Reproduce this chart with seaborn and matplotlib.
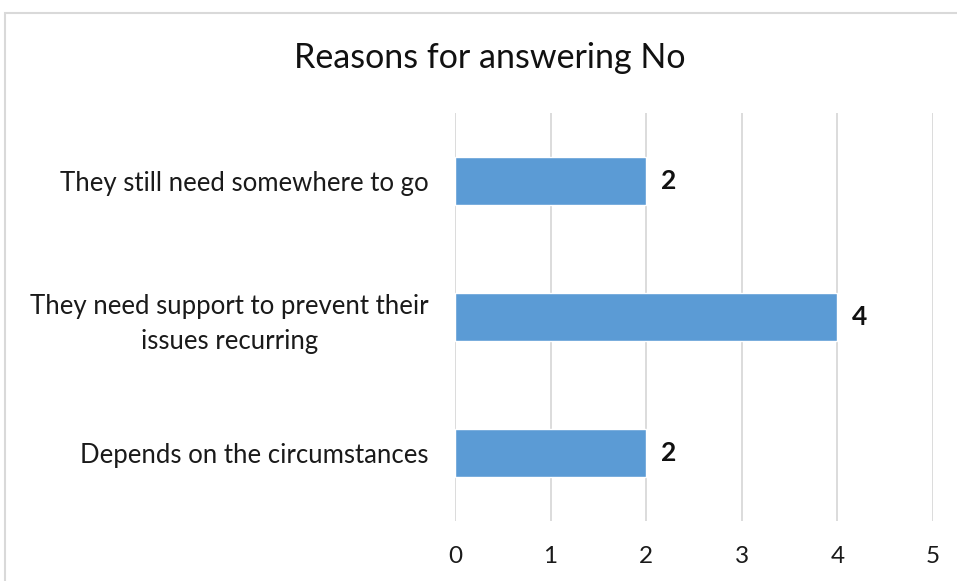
import matplotlib.pyplot as plt
import seaborn as sns
import pandas as pd
from matplotlib.patches import Rectangle

# === Données ===
categories = [
    "They still need somewhere to go",
    "They need support to prevent their\nissues recurring",
    "Depends on the circumstances",
]
counts = [2, 4, 2]
x_ticks = [0, 1, 2, 3, 4, 5]

BAR_COLOR = "#5B9BD5"
GRID_COLOR = "#D9D9D9"

df = pd.DataFrame({"reason": categories, "count": counts})

sns.set_style("white")
plt.rcParams["font.family"] = ["Lato", "DejaVu Sans"]

fig = plt.figure(figsize=(9.57, 5.81), dpi=100)
ax = fig.add_axes([0.4754, 0.1033, 0.4995, 0.7022])

sns.barplot(data=df, x="count", y="reason", color=BAR_COLOR,
            width=0.35, saturation=1, ax=ax)

ax.set_xlim(0, 5)
ax.set_ylim(2.5, -0.5)
ax.set_xticks(x_ticks)
ax.xaxis.grid(True, color=GRID_COLOR, linewidth=1.3)
ax.set_axisbelow(True)
for s in ax.spines.values():
    s.set_visible(False)

ax.set_xlabel("")
ax.set_ylabel("")
ax.tick_params(axis="x", length=0, pad=18, labelsize=17.5, labelcolor="#1a1a1a")
ax.tick_params(axis="y", length=0, pad=19, labelsize=18.5, labelcolor="#1a1a1a")
for lbl in ax.get_yticklabels():
    lbl.set_multialignment("center")
    lbl.set_linespacing(1.5)

# étiquettes de valeur
for i, v in enumerate(counts):
    ax.text(v + 0.15, i, str(v), va="center", ha="left",
            fontsize=19, fontweight="bold", color="#111111")

fig.suptitle("Reasons for answering No", x=0.512, y=0.90, va="center",
             fontsize=24.5, color="#111111")

# cadre du graphique
fig.patches.append(Rectangle((5 / 957, -0.1), 1.2, 1.1 - 13 / 581,
                             transform=fig.transFigure, fill=False,
                             edgecolor=GRID_COLOR, linewidth=1.5))

fig.savefig("out.png", dpi=100)
